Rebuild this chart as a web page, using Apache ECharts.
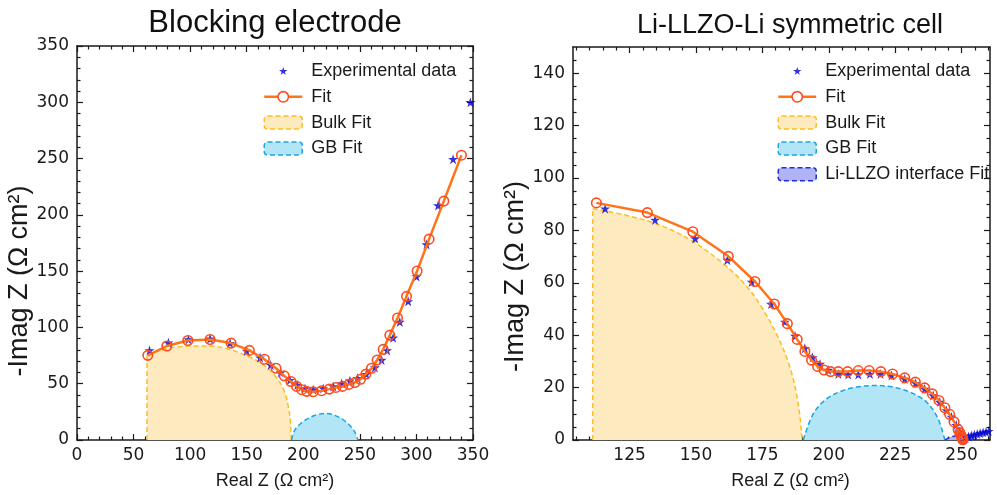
<!DOCTYPE html>
<html>
<head>
<meta charset="utf-8">
<script src="https://cdn.jsdelivr.net/npm/echarts@6/dist/echarts.min.js"></script>
<style>
  html, body { margin: 0; background: #fff; }
  #chart { width: 997px; height: 495px; }
</style>
</head>
<body>
<div id="chart"></div>
<script>
// ---- data ----
// left panel: blocking electrode
var blockExp = [[64.1,79.6],[80.8,86.4],[98.5,89.3],[117.6,89.9],[135.3,86.1],[150.0,79.1],[161.8,73.2],[171.2,66.7],[180.0,60.0],[188.2,53.2],[194.7,48.8],[201.5,45.8],[208.8,44.7],[217.6,45.8],[226.5,47.6],[233.9,50.3],[241.2,52.6],[247.9,54.9],[255.7,58.5],[263.3,64.4],[269.2,71.1],[274.1,79.6],[279.4,90.8],[285.3,104.9],[292.7,123.2],[300.1,145.2],[308.9,173.7],[319.1,208.3],[332.4,249.5],[347.7,300.0]];
var blockFit = [[62.6,75.2],[79.4,83.5],[98.0,88.4],[117.6,89.3],[136.2,86.1],[152.3,79.6],[165.6,71.7],[175.9,63.7],[183.2,57.0],[189.1,52.0],[194.1,47.6],[198.6,44.7],[203.0,43.2],[208.8,42.9],[216.2,43.8],[222.9,45.2],[228.8,46.7],[234.7,47.6],[240.3,49.4],[245.6,51.1],[250.6,54.0],[255.3,58.5],[260.3,63.7],[265.3,71.1],[270.6,80.5],[276.5,93.2],[283.3,108.4],[291.2,127.6],[300.6,150.1],[311.2,178.4],[324.2,212.2],[339.8,253.0]];
var blockBulk = [[61.9,74.6],[73.7,79.6],[88.4,82.6],[103.1,83.5],[117.8,83.5],[132.5,81.1],[147.2,76.1],[161.9,68.8],[173.7,58.5],[182.5,45.2],[186.9,29.1],[188.7,15.0],[189.3,0]];
var blockBulkEdge = [[61.9,0],[61.9,74.6]];
var blockGB = [[189.6,0],[192,8],[197,14],[205,19.5],[212,22.5],[218.5,23.5],[225,22.8],[233,19.5],[240,14],[245,8],[248.3,0]];

// right panel: Li-LLZO-Li symmetric cell
var cellExp = [[115.8,88.3],[134.6,84.0],[149.7,76.9],[161.8,68.7],[171.0,60.3],[178.3,51.9],[183.5,45.1],[187.3,39.7],[191.0,35.0],[193.9,31.5],[196.7,29.0],[199.8,26.7],[203.6,25.2],[207.3,25.0],[211.1,25.0],[215.5,25.2],[219.5,25.2],[223.6,24.6],[228.6,23.3],[232.7,21.7],[236.1,19.5],[239.3,17.0],[241.8,14.5],[244.3,11.3],[246.2,8.8],[248.0,5.7],[249.3,3.2],[250.4,1.2],[251.5,0.8],[252.6,1.3],[253.7,1.7],[254.8,2.0],[255.9,2.3],[257.0,2.6],[258.1,2.9],[259.2,3.1],[260.2,3.4]];
var cellFit = [[112.5,90.5],[131.7,86.8],[148.8,79.5],[162.2,70.1],[172.2,60.5],[179.5,51.9],[184.4,44.4],[188.1,38.4],[191.0,33.8],[193.5,30.5],[195.8,28.1],[198.2,26.7],[200.7,26.1],[203.6,26.1],[207.1,26.1],[211.1,26.5],[215.2,26.5],[219.6,26.1],[224.0,25.2],[228.6,23.7],[232.6,22.1],[236.1,19.9],[239.0,17.6],[241.5,15.1],[243.7,12.3],[245.5,9.8],[247.2,6.9],[248.7,4.0],[249.3,2.8],[249.7,1.9],[250.0,1.2],[250.2,0.7],[250.4,0.3],[250.5,0.1]];
var cellBulk = [[111.1,88.3],[124.0,85.7],[136.5,82.0],[149.0,75.7],[161.6,66.2],[169.1,58.6],[174.1,51.7],[180.4,40.3],[185.4,27.7],[188.5,13.8],[190.0,0]];
var cellBulkEdge = [[111.1,0],[111.1,88.3]];
var cellGB = [[190.4,0],[194.2,10.1],[199.2,15.7],[205.4,18.9],[211.0,20.3],[217.3,20.8],[224.0,20.2],[230.5,18.3],[236.8,14.5],[241.1,8.2],[243.7,0]];
var cellIface = [[243.8,0],[245.5,1.0],[247.5,1.5],[249.5,1.0],[250.6,0]];

// ticks
var blockXLabels = [0, 50, 100, 150, 200, 250, 300, 350];
var blockYLabels = [0, 50, 100, 150, 200, 250, 300, 350];
var blockMinor = [10,20,30,40,60,70,80,90,110,120,130,140,160,170,180,190,210,220,230,240,260,270,280,290,310,320,330,340];
var cellXLabels = [125, 150, 175, 200, 225, 250];
var cellXMinor = [105,110,115,120,130,135,140,145,155,160,165,170,180,185,190,195,205,210,215,220,230,235,240,245,255,260];
var cellYLabels = [0, 20, 40, 60, 80, 100, 120, 140];
var cellYMinor = [5,10,15,25,30,35,45,50,55,65,70,75,85,90,95,105,110,115,125,130,135,145];

// ---- styling ----
var INK = '#1a1a1a';
var STAR = 'path://M0,-1L0.2245,-0.309L0.951,-0.309L0.363,0.118L0.588,0.809L0,0.382L-0.588,0.809L-0.363,0.118L-0.951,-0.309L-0.2245,-0.309Z';
var STAR_LEGEND = STAR + 'M0,-1.57M0,1.38';
var BULK = { fill: '#fdeabf', line: '#ffbd1f' };
var GB = { fill: '#b2e5f6', line: '#1aa6e2' };
var IFACE = { fill: '#b0b3f4', line: '#1f2be0' };
var DASH = [5, 3];

// four axes per side: main + mirrored, each plus a minor-tick copy
function frameAxes(kind, grid, min, max, labels, minors, name, nameGap, namePad, nameSize) {
  var main = kind === 'x' ? 'bottom' : 'left';
  var other = kind === 'x' ? 'top' : 'right';
  function base(pos, ticks, len, showLine) {
    return {
      type: 'value', gridIndex: grid, position: pos, min: min, max: max,
      splitLine: { show: false },
      axisLine: { show: showLine, onZero: false, lineStyle: { color: INK, width: 1.5 } },
      axisTick: { show: true, inside: true, length: len, customValues: ticks, lineStyle: { color: INK, width: 1.2 } },
      axisLabel: { show: false }
    };
  }
  var first = base(main, labels, 6, true);
  first.axisLabel = {
    show: true, customValues: labels, margin: kind === 'x' ? 7 : 8,
    fontFamily: 'DejaVu Sans', fontSize: 17, color: INK
  };
  first.name = name;
  first.nameLocation = 'middle';
  first.nameGap = nameGap;
  first.nameTextStyle = { fontFamily: 'Liberation Sans', fontSize: nameSize, color: INK, padding: namePad };
  return [first, base(other, labels, 6, true), base(main, minors, 3.5, false), base(other, minors, 3.5, false)];
}

var xAxes = [].concat(
  frameAxes('x', 0, 0, 350, blockXLabels, blockMinor, 'Real Z (Ω cm²)', 32, [0, 0, 0, 0], 18),
  frameAxes('x', 1, 103.7, 260.7, cellXLabels, cellXMinor, 'Real Z (Ω cm²)', 32, [0, 0, 0, 18], 18)
);
var yAxes = [].concat(
  frameAxes('y', 0, 0, 350, blockYLabels, blockMinor, '-Imag Z (Ω cm²)', 44, [0, 76, 0, 0], 27),
  frameAxes('y', 1, 0, 150, cellYLabels, cellYMinor, '-Imag Z (Ω cm²)', 40, [0, 66, 0, 0], 27)
);

function areaSeries(name, data, c, axis) {
  return {
    type: 'line', name: name, data: data, xAxisIndex: axis, yAxisIndex: axis,
    symbol: 'none', smooth: 0.35, silent: true, z: 1,
    itemStyle: { color: c.line },
    lineStyle: { color: c.line, width: 1.5, type: DASH },
    areaStyle: { color: c.fill, opacity: 1 }
  };
}
function edgeSeries(name, data, c, axis) {
  return {
    type: 'line', name: name, data: data, xAxisIndex: axis, yAxisIndex: axis,
    symbol: 'none', silent: true, z: 1,
    itemStyle: { color: c.line },
    lineStyle: { color: c.line, width: 1.5, type: DASH }
  };
}
function expSeries(data, axis) {
  return {
    type: 'scatter', name: 'Experimental data', data: data, xAxisIndex: axis, yAxisIndex: axis,
    symbol: STAR, symbolSize: 10, z: 3, itemStyle: { color: '#0000cd' }
  };
}
function fitSeries(data, axis) {
  return {
    type: 'line', name: 'Fit', data: data, xAxisIndex: axis, yAxisIndex: axis,
    symbol: 'circle', symbolSize: 9.5, showAllSymbol: true, z: 4,
    lineStyle: { color: '#ff7417', width: 2.5 },
    itemStyle: { color: 'rgba(255,255,255,0)', borderColor: '#ff4b1f', borderWidth: 1.6 }
  };
}

function legendItems(withIface) {
  var items = [
    { name: 'Experimental data', icon: STAR_LEGEND, itemStyle: { color: '#0000cd', borderWidth: 0 } },
    { name: 'Fit', itemStyle: { color: '#fff', borderColor: '#ff4b1f', borderWidth: 1.6 }, lineStyle: { color: '#ff7417', width: 2.5 } },
    { name: 'Bulk Fit', icon: 'roundRect', itemStyle: { color: BULK.fill, borderColor: BULK.line, borderWidth: 1.5, borderType: DASH } },
    { name: 'GB Fit', icon: 'roundRect', itemStyle: { color: GB.fill, borderColor: GB.line, borderWidth: 1.5, borderType: DASH } }
  ];
  if (withIface) {
    items.push({ name: 'Li-LLZO interface Fit', icon: 'roundRect', itemStyle: { color: IFACE.fill, borderColor: IFACE.line, borderWidth: 1.5, borderType: DASH } });
  }
  return items;
}
function legendAt(left, top, withIface) {
  return {
    orient: 'vertical', left: left, top: top, padding: 0,
    itemWidth: 38, itemHeight: 13, itemGap: 7.8,
    textStyle: { fontFamily: 'Liberation Sans', fontSize: 18, color: INK, padding: [0, 0, 0, 4] },
    data: legendItems(withIface)
  };
}

var titleStyle = { fontFamily: 'Liberation Sans', fontWeight: 'normal', color: '#111' };

var option = {
  animation: false,
  backgroundColor: '#fff',
  title: [
    { text: 'Blocking electrode', left: 275, top: 8, textAlign: 'center', padding: 0,
      textStyle: Object.assign({ fontSize: 31 }, titleStyle) },
    { text: 'Li-LLZO-Li symmetric cell', left: 790, top: 12, textAlign: 'center', padding: 0,
      textStyle: Object.assign({ fontSize: 27 }, titleStyle) }
  ],
  legend: [legendAt(263, 62, false), legendAt(777, 62, true)],
  grid: [
    { left: 77, top: 46, width: 396, height: 397 },
    { left: 573, top: 47, width: 417, height: 396 }
  ],
  xAxis: xAxes,
  yAxis: yAxes,
  series: [
    areaSeries('Bulk Fit', blockBulk, BULK, 0),
    edgeSeries('Bulk Fit', blockBulkEdge, BULK, 0),
    areaSeries('GB Fit', blockGB, GB, 0),
    expSeries(blockExp, 0),
    fitSeries(blockFit, 0),
    areaSeries('Bulk Fit', cellBulk, BULK, 4),
    edgeSeries('Bulk Fit', cellBulkEdge, BULK, 4),
    areaSeries('GB Fit', cellGB, GB, 4),
    areaSeries('Li-LLZO interface Fit', cellIface, IFACE, 4),
    expSeries(cellExp, 4),
    fitSeries(cellFit, 4)
  ]
};

var chart = echarts.init(document.getElementById('chart'));
chart.setOption(option);
</script>
</body>
</html>
